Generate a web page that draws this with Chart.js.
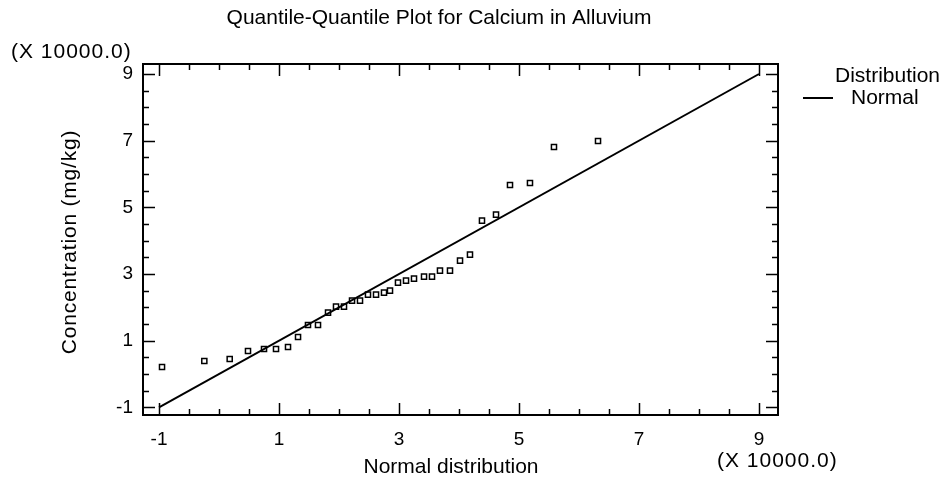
<!DOCTYPE html>
<html>
<head>
<meta charset="utf-8">
<script src="https://cdn.jsdelivr.net/npm/chart.js@4.4.1/dist/chart.umd.min.js"></script>
<style>
  html, body { margin: 0; padding: 0; background: #fff; }
  #wrap { width: 942px; height: 489px; }
</style>
</head>
<body>
<div id="wrap"><canvas id="qqChart" width="942" height="489"></canvas></div>
<script>
// ===== DATA (values in units of 10000) =====
const xTicks = [-1, 1, 3, 5, 7, 9];
const yTicks = [-1, 1, 3, 5, 7, 9];

const normalQuantiles = [
  -0.95, -0.245, 0.178, 0.483, 0.75, 0.95, 1.15, 1.317, 1.483, 1.65,
  1.817, 1.95, 2.083, 2.217, 2.35, 2.483, 2.617, 2.75, 2.85, 2.983,
  3.117, 3.25, 3.417, 3.55, 3.683, 3.85, 4.017, 4.183, 4.383, 4.617,
  4.85, 5.183, 5.583, 6.317
];
const concentration = [
  0.21, 0.39, 0.45, 0.69, 0.75, 0.75, 0.81, 1.11, 1.47, 1.47,
  1.84, 2.02, 2.02, 2.20, 2.20, 2.38, 2.38, 2.44, 2.50, 2.74,
  2.80, 2.86, 2.92, 2.92, 3.10, 3.10, 3.40, 3.58, 4.60, 4.78,
  5.67, 5.73, 6.81, 6.99
];

// fitted normal reference line
const refLineX = [-1, 9];
const refLineY = [-1, 9];

const FONT = "'Liberation Sans', Arial, Helvetica, sans-serif";

// ===== PLUGIN: frame, inward ticks, titles, legend =====
const decorPlugin = {
  id: "decor",
  afterDraw(chart) {
    const c = chart.ctx;
    const a = chart.chartArea;
    const xs = chart.scales.x;
    const ys = chart.scales.y;

    c.save();
    c.strokeStyle = "#000";
    c.lineWidth = 2;
    c.strokeRect(a.left, a.top, a.right - a.left, a.bottom - a.top);

    // inward tick marks, minor every 0.5
    c.lineWidth = 1.5;
    c.beginPath();
    for (let v = -1; v <= 9.001; v += 0.5) {
      const major = Math.abs((v + 1) % 2) < 0.001;
      const len = major ? 12 : 6;
      const px = Math.round(xs.getPixelForValue(v)) + 0.5;
      c.moveTo(px, a.bottom); c.lineTo(px, a.bottom - len);
      c.moveTo(px, a.top); c.lineTo(px, a.top + len);
      const py = Math.round(ys.getPixelForValue(v)) + 0.5;
      c.moveTo(a.left, py); c.lineTo(a.left + len, py);
      c.moveTo(a.right, py); c.lineTo(a.right - len, py);
    }
    c.stroke();

    c.fillStyle = "#000";
    c.textBaseline = "middle";
    c.font = "21px " + FONT;

    c.textAlign = "center";
    c.fillText("Quantile-Quantile Plot for Calcium in Alluvium", 439, 18);
    c.fillText("Normal distribution", 451, 467);

    c.textAlign = "left";
    c.fillText("Distribution", 835, 76);
    c.fillText("Normal", 851, 98);
    c.lineWidth = 2;
    c.beginPath();
    c.moveTo(803, 98); c.lineTo(833, 98);
    c.stroke();

    // multiplier labels (reference font is a little wider)
    c.letterSpacing = "1px";
    c.fillText("(X 10000.0)", 11, 52);
    c.fillText("(X 10000.0)", 717, 461);

    // y axis title
    c.letterSpacing = "0.8px";
    c.translate(70, 242);
    c.rotate(-Math.PI / 2);
    c.textAlign = "center";
    c.fillText("Concentration (mg/kg)", 0, 0);
    c.restore();
  }
};

// ===== CHART =====
const ctx = document.getElementById("qqChart").getContext("2d");
const qqChart = new Chart(ctx, {
  type: "scatter",
  data: {
    datasets: [
      {
        label: "Concentration",
        data: normalQuantiles.map((x, i) => ({ x: x, y: concentration[i] })),
        pointStyle: "rect",
        pointRadius: 3.6,
        borderColor: "#000",
        backgroundColor: "rgba(0,0,0,0)",
        borderWidth: 1.5,
        showLine: false
      },
      {
        label: "Normal",
        data: refLineX.map((x, i) => ({ x: x, y: refLineY[i] })),
        showLine: true,
        pointRadius: 0,
        borderColor: "#000",
        borderWidth: 2,
        fill: false
      }
    ]
  },
  options: {
    responsive: false,
    animation: false,
    events: [],
    layout: { padding: { top: 64, right: 164, left: 0, bottom: 0 } },
    scales: {
      x: {
        type: "linear",
        min: -1.267,
        max: 9.317,
        grid: { display: false, drawTicks: false },
        border: { display: false },
        afterBuildTicks: s => { s.ticks = xTicks.map(v => ({ value: v })); },
        afterFit: s => { s.height = 74; },
        ticks: {
          color: "#000",
          padding: 13,
          maxRotation: 0,
          autoSkip: false,
          font: { family: FONT, size: 19 }
        }
      },
      y: {
        type: "linear",
        min: -1.23,
        max: 9.3,
        grid: { display: false, drawTicks: false },
        border: { display: false },
        afterBuildTicks: s => { s.ticks = yTicks.map(v => ({ value: v })); },
        afterFit: s => { s.width = 143; },
        ticks: {
          color: "#000",
          padding: 10,
          autoSkip: false,
          font: { family: FONT, size: 19 }
        }
      }
    },
    plugins: {
      legend: { display: false },
      title: { display: false },
      tooltip: { enabled: false }
    }
  },
  plugins: [decorPlugin]
});
</script>
</body>
</html>
